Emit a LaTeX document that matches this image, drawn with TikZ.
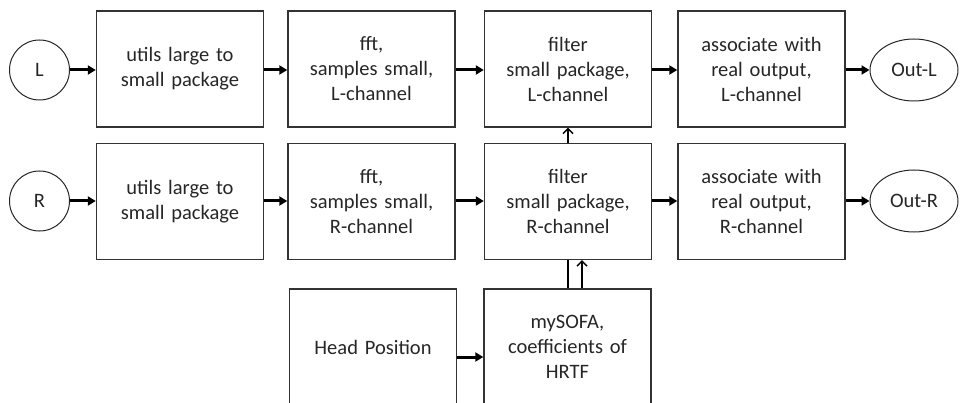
\documentclass[tikz,border=0pt]{standalone}
\usepackage{fontspec}
\setmainfont{Carlito}
\usetikzlibrary{arrows.meta,shapes.geometric}

\begin{document}
\begin{tikzpicture}[x=1pt,y=-1pt,
  every node/.style={font=\fontsize{20.5}{25}\selectfont, text=black!85},
  blockbox/.style={draw=black!80, line width=1.4pt, minimum width=167pt,
    minimum height=116pt, inner sep=0pt, text width=160pt, align=center},
  io/.style={draw=black!85, line width=1pt, circle, minimum size=60pt, inner sep=0pt},
  outnode/.style={draw=black!85, line width=1pt, ellipse, minimum width=88pt,
    minimum height=62pt, inner sep=0pt},
  flow/.style={line width=3pt, draw=black, -{Triangle[length=8pt,width=9pt]}},
  upflow/.style={line width=1.4pt, draw=black, -{Straight Barb[length=5pt,width=10pt]}},
  plain/.style={line width=1.4pt, draw=black}
]
\useasboundingbox (0,0) rectangle (960,403);
\clip (0,0) rectangle (960,403);

% inputs
\node[io] (L) at (39.5,70) {L};
\node[io] (R) at (39.5,201) {R};

% left channel row
\node[blockbox] (ul) at (180,69) {utils large to\\small package};
\node[blockbox] (fl) at (371.5,69) {fft,\\samples small,\\L-channel};
\node[blockbox] (hl) at (568,69) {filter\\small package,\\L-channel};
\node[blockbox] (al) at (761.5,69) {associate with\\real output,\\L-channel};
\node[outnode] (ol) at (914,70) {Out-L};

% right channel row
\node[blockbox] (ur) at (180,201.5) {utils large to\\small package};
\node[blockbox] (fr) at (371.5,201.5) {fft,\\samples small,\\R-channel};
\node[blockbox] (hr) at (568,201.5) {filter\\small package,\\R-channel};
\node[blockbox] (ar) at (761.5,201.5) {associate with\\real output,\\R-channel};
\node[outnode] (or) at (914,201) {Out-R};

% head tracking row
\node[blockbox] (hp) at (373,347) {Head Position};
\node[blockbox] (ms) at (567.5,347) {mySOFA,\\coefficients of\\HRTF};

% left channel flow
\draw[flow] (L.east) -- (ul.west |- L.east);
\draw[flow] (ul.east |- L.east) -- (fl.west |- L.east);
\draw[flow] (fl.east |- L.east) -- (hl.west |- L.east);
\draw[flow] (hl.east |- L.east) -- (al.west |- L.east);
\draw[flow] (al.east |- L.east) -- (ol.west);

% right channel flow
\draw[flow] (R.east) -- (ur.west |- R.east);
\draw[flow] (ur.east |- R.east) -- (fr.west |- R.east);
\draw[flow] (fr.east |- R.east) -- (hr.west |- R.east);
\draw[flow] (hr.east |- R.east) -- (ar.west |- R.east);
\draw[flow] (ar.east |- R.east) -- (or.west);

% head position to coefficients
\draw[flow] (hp.east |- 0,357) -- (ms.west |- 0,357);

% coefficients feed the filters
\draw[upflow] (hr.north) -- (hl.south);
\draw[plain] (ms.north -| hr.south) -- (hr.south);
\draw[upflow] ([xshift=14pt]ms.north -| hr.south) -- ([xshift=14pt]hr.south);
\end{tikzpicture}
\end{document}
